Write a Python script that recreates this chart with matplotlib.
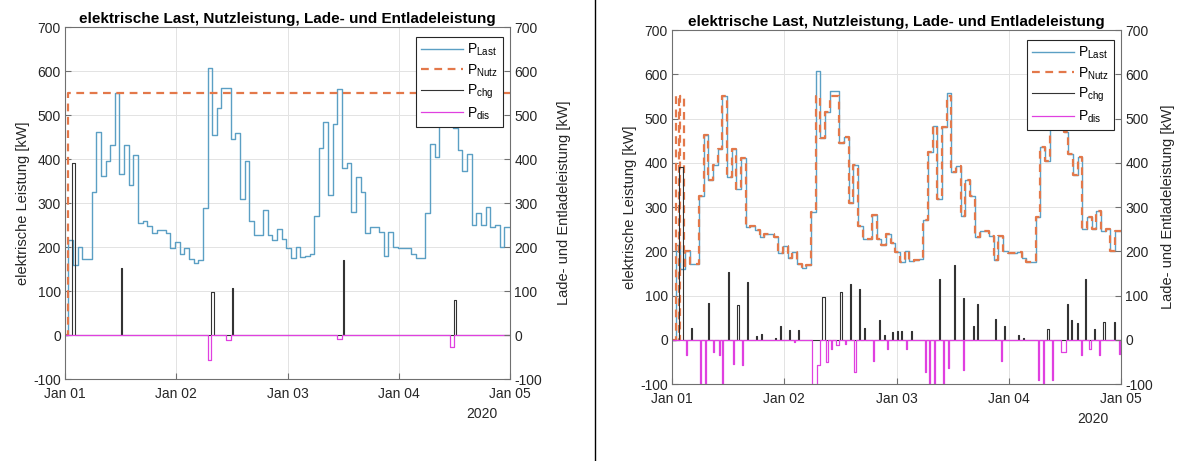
import numpy as np
import matplotlib
matplotlib.use("Agg")
import matplotlib.pyplot as plt
import matplotlib.dates as mdates
from matplotlib.lines import Line2D
from datetime import datetime

plt.rcParams["font.family"] = ["Liberation Sans", "DejaVu Sans"]
plt.rcParams["mathtext.fontset"] = "custom"
plt.rcParams["mathtext.rm"] = "Liberation Sans"
plt.rcParams["mathtext.it"] = "Liberation Sans"
plt.rcParams["axes.unicode_minus"] = False

# ---------------- data ----------------
start_day = datetime(2020, 1, 1)
load_offset_h = 0.75          # first load value begins at 00:45
nutz_cap = 550                # usable power limit [kW]

# hourly electrical load [kW]
p_last = [215, 160, 200, 172, 172, 325, 462, 362, 395, 432, 550, 367,
          432, 340, 410, 255, 258, 248, 232, 238, 238, 232, 197, 212,
          185, 198, 172, 163, 170, 288, 607, 455, 515, 562, 562, 445,
          458, 308, 395, 258, 228, 228, 283, 228, 215, 240, 218, 198,
          175, 200, 178, 180, 183, 270, 425, 483, 318, 480, 558, 380,
          392, 280, 360, 325, 232, 245, 245, 235, 180, 235, 200, 197,
          197, 198, 185, 175, 175, 278, 435, 405, 480, 505, 480, 470,
          420, 372, 412, 250, 278, 250, 290, 245, 250, 200, 245, 245]

# case A: charge / discharge events (start [h], duration [h], power [kW])
chg_a_start = [1.5, 11.9, 31.6, 35.9, 60.0, 84.0]
chg_a_len = [0.75, 0.25, 0.75, 0.25, 0.25, 0.25]
chg_a_val = [390, 152, 97, 107, 170, 80]
dis_a_start = [30.75, 34.75, 58.75, 83.0]
dis_a_len = [0.75, 1.0, 1.0, 1.0]
dis_a_val = [-57, -12, -8, -28]

# case B: charge / discharge events
chg_b_start = [1.6, 3.9, 7.8, 12.0, 14.0, 16.0, 17.9, 18.9, 22.0, 23.0,
               25.0, 27.0, 31.9, 36.0, 38.0, 40.1, 41.0, 44.2, 45.2, 47.1,
               48.1, 49.1, 51.1, 57.1, 60.2, 62.2, 64.2, 65.2, 69.1, 71.1,
               74.0, 75.0, 80.3, 84.4, 85.3, 86.4, 88.3, 90.3, 92.3, 94.4]
chg_b_len = [0.75, 0.25, 0.25, 0.25, 0.25, 0.25, 0.25, 0.25, 0.25, 0.25,
             0.25, 0.25, 0.75, 0.25, 0.25, 0.25, 0.25, 0.25, 0.25, 0.25,
             0.25, 0.25, 0.25, 0.25, 0.25, 0.25, 0.25, 0.25, 0.25, 0.25,
             0.25, 0.25, 0.25, 0.25, 0.25, 0.25, 0.25, 0.25, 0.25, 0.25]
chg_b_val = [390, 26, 84, 153, 78, 131, 8, 14, 5, 30,
             22, 22, 97, 107, 127, 115, 27, 45, 10, 17,
             20, 20, 20, 138, 170, 95, 30, 80, 48, 30,
             10, 5, 25, 80, 45, 37, 138, 25, 40, 40]
dis_b_start = [2.9, 5.9, 6.9, 8.8, 9.9, 10.8, 12.9, 14.9, 26.0, 30.0,
               31.0, 33.0, 34.0, 35.0, 37.0, 38.9, 43.0, 46.0, 50.1, 54.1,
               55.1, 56.0, 58.0, 59.0, 62.3, 70.3, 78.2, 79.2, 81.3, 83.3,
               87.4, 89.3, 91.3, 95.4]
dis_b_len = [0.25, 0.25, 0.25, 0.25, 0.25, 0.25, 0.25, 0.25, 0.25, 1.0,
             0.75, 0.25, 0.25, 0.75, 0.25, 0.25, 0.25, 0.25, 0.25, 0.25,
             0.25, 0.25, 0.25, 0.25, 0.25, 0.25, 0.25, 0.25, 0.25, 1.0,
             0.25, 0.25, 0.25, 0.25]
dis_b_val = [-35, -130, -130, -28, -35, -130, -55, -57, -5, -130,
             -57, -50, -20, -12, -10, -72, -47, -20, -22, -73,
             -130, -130, -130, -63, -68, -47, -90, -130, -90, -28,
             -35, -20, -35, -32]
# usable power at the very beginning of case B (quarter hours)
nutz_b_head = [0, 0, 0, 550, 550, 550, 0, 550, 550, 550]

# ---------------- helpers ----------------
steps_per_h = 4
n_q = 97 * steps_per_h
t_q = np.arange(n_q + 1) / steps_per_h
x_q = mdates.date2num(start_day) + t_q / 24.0


def quarter_load(values):
    arr = np.zeros(n_q + 1)
    i0 = int(round(load_offset_h * steps_per_h))
    rep = np.repeat(np.asarray(values, float), steps_per_h)
    arr[i0:i0 + rep.size] = rep
    arr[i0 + rep.size:] = values[-1]
    return arr


def quarter_events(starts, lens, vals):
    arr = np.zeros(n_q + 1)
    for s, d, v in zip(starts, lens, vals):
        i0 = int(round(s * steps_per_h))
        n = max(1, int(round(d * steps_per_h)))
        arr[i0:i0 + n] = v
    return arr


last_q = quarter_load(p_last)
nutz_a = np.where(t_q < load_offset_h, 0.0, nutz_cap)
nutz_b = np.minimum(last_q, nutz_cap)
nutz_b[:len(nutz_b_head)] = nutz_b_head

cases = [
    (nutz_a, quarter_events(chg_a_start, chg_a_len, chg_a_val),
     quarter_events(dis_a_start, dis_a_len, dis_a_val)),
    (nutz_b, quarter_events(chg_b_start, chg_b_len, chg_b_val),
     quarter_events(dis_b_start, dis_b_len, dis_b_val)),
]

# ---------------- figure ----------------
W, H = 1184, 461
fig = plt.figure(figsize=(W / 100, H / 100), dpi=100)
boxes = [(65, 27, 510, 379), (672, 30, 1121, 384)]
right_label_pads = [11, 6]

c_last = "#5B9FC4"
c_nutz = "#E3784A"
c_chg = "#333333"
c_dis = "#E040E0"
txt = "#262626"
ax_col = "#707070"

for (l, t, r, b), (nutz, chg, dis), rpad in zip(boxes, cases, right_label_pads):
    ax = fig.add_axes([l / W, 1 - b / H, (r - l) / W, (b - t) / H])
    ax.step(x_q, last_q, where="post", color=c_last, lw=1.0, label=r"P$_{\rm Last}$")
    ax.step(x_q, nutz, where="post", color=c_nutz, lw=1.6, ls=(0, (3.5, 2.5)),
            label=r"P$_{\rm Nutz}$")
    ax.step(x_q, chg, where="post", color=c_chg, lw=0.8, label=r"P$_{\rm chg}$")
    ax.step(x_q, dis, where="post", color=c_dis, lw=0.9, label=r"P$_{\rm dis}$")

    x0 = mdates.date2num(start_day)
    ax.set_xlim(x0, x0 + 4)
    ax.set_ylim(-100, 700)
    ax.set_yticks(np.arange(-100, 701, 100))
    ax.xaxis.set_major_locator(mdates.DayLocator())
    ax.xaxis.set_major_formatter(mdates.DateFormatter("%b %d"))
    ax.grid(True, color="#E3E3E3", lw=0.7)
    ax.set_axisbelow(True)
    for s in ax.spines.values():
        s.set_color(ax_col)
        s.set_linewidth(0.8)
    ax.tick_params(direction="in", length=4, colors=ax_col, labelcolor=txt,
                   labelsize=10, pad=3)
    ax.tick_params(axis="x", pad=6)
    ax.set_ylabel("elektrische Leistung [kW]", fontsize=10.5, color=txt, labelpad=2)
    ax.set_title("elektrische Last, Nutzleistung, Lade- und Entladeleistung",
                 fontsize=11, fontweight="bold", color="black", pad=3)
    ax.text(0.972, -0.08, "2020", transform=ax.transAxes, ha="right", va="top",
            fontsize=10, color=txt)

    axr = ax.twinx()
    axr.set_ylim(-100, 700)
    axr.set_yticks(np.arange(-100, 701, 100))
    axr.tick_params(direction="in", length=4, colors=ax_col, labelcolor=txt,
                    labelsize=10, pad=3)
    for s in axr.spines.values():
        s.set_visible(False)
    axr.set_ylabel("Lade- und Entladeleistung [kW]", fontsize=10.5, color=txt,
                   labelpad=rpad)

    leg = ax.legend(loc="upper right", bbox_to_anchor=(0.984, 0.972),
                    borderaxespad=0, fancybox=False, framealpha=1,
                    edgecolor="#262626", fontsize=10, handlelength=3.0,
                    labelspacing=0.3, borderpad=0.35, handletextpad=0.3)
    leg.get_frame().set_linewidth(0.8)

fig.add_artist(Line2D([595 / W, 595 / W], [0, 1], color="black", lw=1.0))

fig.savefig("out.png", dpi=100)
